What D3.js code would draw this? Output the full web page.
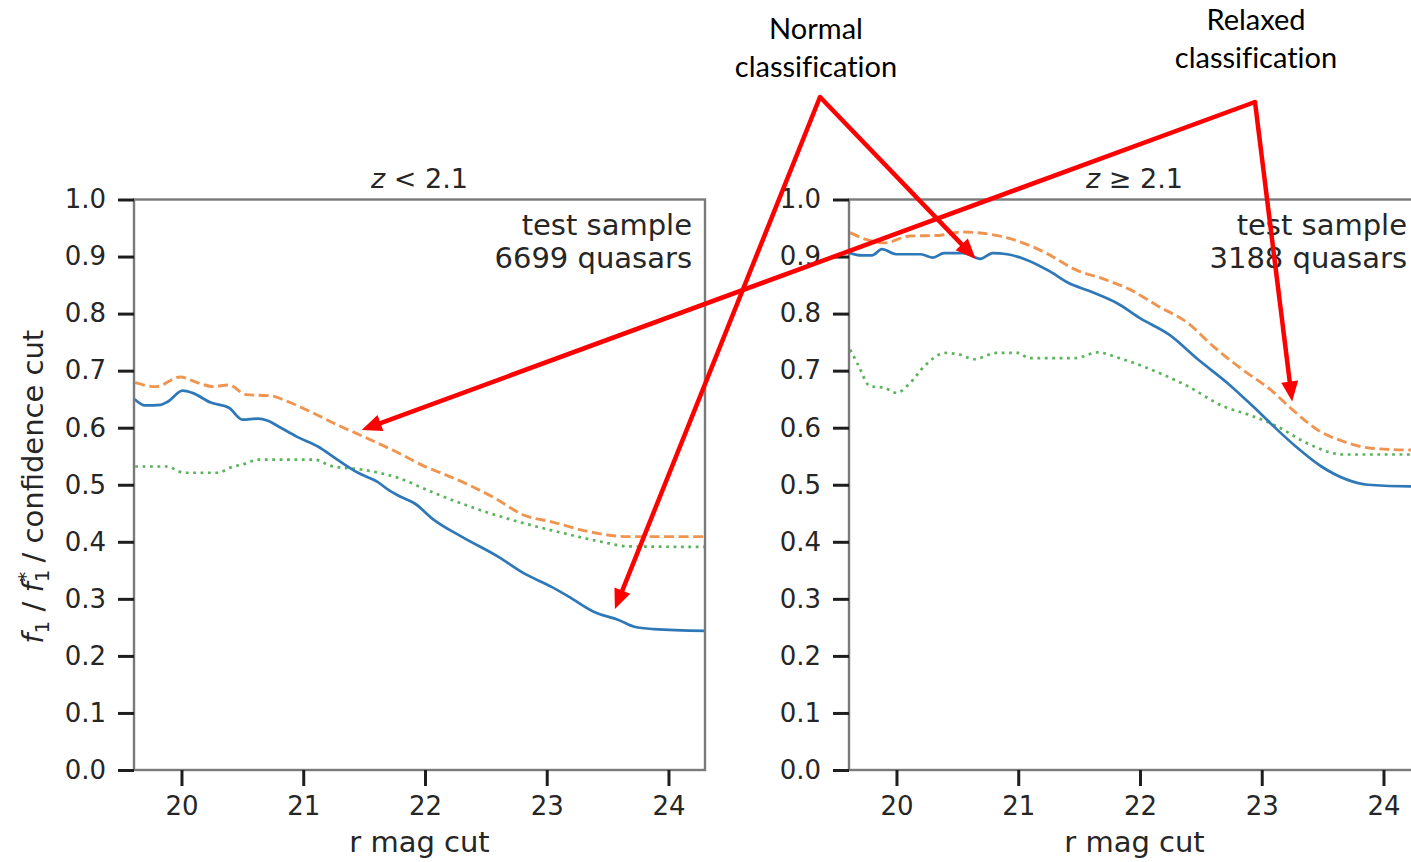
<!DOCTYPE html>
<html>
<head>
<meta charset="utf-8">
<script src="https://cdn.jsdelivr.net/npm/d3@7"></script>
<style>
  html, body { margin: 0; padding: 0; background: #fff; overflow: hidden; }
  svg { display: block; }
</style>
</head>
<body>
<svg id="chart" width="1411" height="862"></svg>
<script>
// ---- data: f1 / f1* / confidence cut versus r magnitude cut ----
// z < 2.1 panel
const lowBlueX   = [19.62,19.70,19.83,19.89,20.01,20.09,20.24,20.39,20.50,20.63,20.71,20.79,20.95,21.12,21.28,21.45,21.61,21.70,21.80,21.91,22.07,22.30,22.60,22.81,23.04,23.18,23.39,23.59,23.72,23.88,24.30];
const lowBlueY   = [0.649,0.639,0.640,0.646,0.665,0.661,0.644,0.635,0.614,0.616,0.612,0.603,0.584,0.567,0.544,0.521,0.505,0.491,0.479,0.468,0.439,0.409,0.374,0.345,0.321,0.304,0.277,0.263,0.251,0.247,0.244];
const lowOrangeX = [19.62,19.79,19.99,20.13,20.26,20.39,20.53,20.73,20.87,21.06,21.28,21.50,21.78,22.02,22.13,22.57,22.81,23.04,23.34,23.67,24.30];
const lowOrangeY = [0.679,0.672,0.689,0.679,0.672,0.675,0.658,0.656,0.646,0.628,0.605,0.584,0.556,0.530,0.521,0.477,0.447,0.435,0.418,0.409,0.409];
const lowGreenX  = [19.62,19.88,20.02,20.30,20.40,20.54,20.62,21.09,21.23,21.50,21.78,22.07,22.49,22.77,23.12,23.45,23.67,24.30];
const lowGreenY  = [0.532,0.532,0.521,0.521,0.530,0.538,0.544,0.544,0.533,0.526,0.512,0.486,0.453,0.435,0.416,0.400,0.392,0.391];

// z >= 2.1 panel
const highBlueX   = [19.62,19.71,19.80,19.88,20.00,20.20,20.30,20.39,20.55,20.69,20.79,20.91,21.06,21.26,21.41,21.59,21.83,22.00,22.24,22.48,22.72,22.93,23.10,23.28,23.49,23.70,23.87,24.22,24.30];
const highBlueY   = [0.906,0.902,0.902,0.913,0.904,0.904,0.898,0.906,0.906,0.896,0.906,0.904,0.895,0.874,0.854,0.839,0.816,0.792,0.763,0.719,0.678,0.637,0.602,0.567,0.532,0.509,0.500,0.497,0.497];
const highOrangeX = [19.62,19.75,19.90,20.11,20.34,20.55,20.82,21.00,21.23,21.47,21.71,21.92,22.15,22.39,22.60,22.84,23.07,23.25,23.46,23.67,23.90,24.22,24.30];
const highOrangeY = [0.942,0.930,0.924,0.936,0.937,0.943,0.937,0.927,0.906,0.877,0.860,0.842,0.813,0.784,0.743,0.702,0.667,0.632,0.596,0.576,0.564,0.561,0.561];
const highGreenX  = [19.62,19.69,19.78,19.90,20.00,20.11,20.23,20.40,20.52,20.64,20.82,21.00,21.09,21.47,21.65,21.83,22.09,22.39,22.69,22.89,23.13,23.37,23.67,24.22,24.30];
const highGreenY  = [0.737,0.708,0.673,0.670,0.661,0.678,0.708,0.731,0.728,0.720,0.731,0.731,0.722,0.722,0.732,0.722,0.702,0.673,0.637,0.623,0.602,0.573,0.553,0.553,0.553];

// axes
const xTicks = [20, 21, 22, 23, 24];
const yTicks = [0.0, 0.1, 0.2, 0.3, 0.4, 0.5, 0.6, 0.7, 0.8, 0.9, 1.0];
const xDomain = [19.61, 24.30];
const yDomain = [0, 1];

// panel texts
const panelTitles = ["z", "z"];
const panelRelations = ["<", "\u2265"];
const panelCut = "2.1";
const sampleCounts = ["6699 quasars", "3188 quasars"];

// callout labels and the points they refer to (panel, r mag, value)
const calloutNormal  = ["Normal", "classification"];
const calloutRelaxed = ["Relaxed", "classification"];
const normalTargets  = [[0, 23.56, 0.282], [1, 20.65, 0.896]];
const relaxedTargets = [[0, 21.48, 0.596], [1, 23.25, 0.646]];

// ---- drawing ----
const svg = d3.select("#chart");
svg.append("rect").attr("width", 1411).attr("height", 862).attr("fill", "#fff");

const FONT = "DejaVu Sans, sans-serif";
const TEXT = "#262626";
const plotTop = 199.5, plotBottom = 770;
const panelLefts = [134, 849];
const panelW = 571;

const styles = {
  blue:   { color: "#2f78b8", dash: null,   width: 2.7 },
  orange: { color: "#f0954f", dash: "10,4.5", width: 2.9 },
  green:  { color: "#5bb35b", dash: "2.8,4.6", width: 2.7 }
};

const panels = [
  { series: [
      { x: lowGreenX,  y: lowGreenY,  s: styles.green },
      { x: lowOrangeX, y: lowOrangeY, s: styles.orange },
      { x: lowBlueX,   y: lowBlueY,   s: styles.blue } ] },
  { series: [
      { x: highGreenX,  y: highGreenY,  s: styles.green },
      { x: highOrangeX, y: highOrangeY, s: styles.orange },
      { x: highBlueX,   y: highBlueY,   s: styles.blue } ] }
];

const y = d3.scaleLinear().domain(yDomain).range([plotBottom, plotTop]);
const xScales = [];

panels.forEach((p, i) => {
  const left = panelLefts[i], right = left + panelW;
  const x = d3.scaleLinear().domain(xDomain).range([left, right]);
  xScales.push(x);
  const g = svg.append("g");

  const clipId = "clip" + i;
  svg.append("clipPath").attr("id", clipId)
    .append("rect").attr("x", left).attr("y", plotTop).attr("width", panelW).attr("height", plotBottom - plotTop);

  // curves
  const line = d3.line().x(d => x(d[0])).y(d => y(d[1])).curve(d3.curveMonotoneX);
  p.series.forEach(sr => {
    const pts = sr.x.map((v, k) => [v, sr.y[k]]);
    g.append("path")
      .attr("clip-path", `url(#${clipId})`)
      .attr("d", line(pts))
      .attr("fill", "none")
      .attr("stroke", sr.s.color)
      .attr("stroke-width", sr.s.width)
      .attr("stroke-dasharray", sr.s.dash)
      .attr("stroke-linejoin", "round")
      .attr("stroke-linecap", sr.s.dash ? "butt" : "round");
  });

  // frame
  g.append("rect")
    .attr("x", left).attr("y", plotTop).attr("width", panelW).attr("height", plotBottom - plotTop)
    .attr("fill", "none").attr("stroke", "#7a7a7a").attr("stroke-width", 2.4);

  // axes
  const ax = g.append("g").attr("transform", `translate(0,${plotBottom})`)
    .call(d3.axisBottom(x).tickValues(xTicks).tickFormat(d3.format("d")).tickSize(16).tickPadding(11).tickSizeOuter(0));
  const ay = g.append("g").attr("transform", `translate(${left},0)`)
    .call(d3.axisLeft(y).tickValues(yTicks).tickFormat(d3.format(".1f")).tickSize(16).tickPadding(12).tickSizeOuter(0));
  [ax, ay].forEach(a => {
    a.select(".domain").remove();
    a.selectAll(".tick line").attr("stroke", "#1e1e1e").attr("stroke-width", 3);
    a.selectAll(".tick text").attr("fill", TEXT).style("font-family", FONT).style("font-size", "26px");
  });

  // title
  const cx = left + panelW / 2;
  const t = g.append("text").attr("x", cx).attr("y", 188).attr("text-anchor", "middle")
    .attr("fill", TEXT).style("font-family", FONT).style("font-size", "27px");
  t.append("tspan").style("font-style", "italic").text(panelTitles[i]);
  t.append("tspan").text(" " + panelRelations[i] + " " + panelCut);

  // sample note
  const note = g.append("text").attr("text-anchor", "end").attr("fill", TEXT)
    .style("font-family", FONT).style("font-size", "29px");
  note.append("tspan").attr("x", right - 13).attr("y", 235).text("test sample");
  note.append("tspan").attr("x", right - 13).attr("y", 268).text(sampleCounts[i]);

  // x label
  g.append("text").attr("x", cx).attr("y", 852).attr("text-anchor", "middle")
    .attr("fill", TEXT).style("font-family", FONT).style("font-size", "29px").text("r mag cut");
});

// y label: f1 / f1* / confidence cut
const yl = svg.append("text")
  .attr("transform", `translate(43,${(plotTop + plotBottom) / 2 + 2}) rotate(-90)`)
  .attr("text-anchor", "middle").attr("fill", TEXT)
  .style("font-family", FONT).style("font-size", "29px");
yl.append("tspan").style("font-style", "italic").text("f");
yl.append("tspan").attr("dy", 6).style("font-size", "20px").text("1");
yl.append("tspan").attr("dy", -6).text(" / ");
yl.append("tspan").style("font-style", "italic").text("f");
yl.append("tspan").attr("dy", 6).style("font-size", "20px").text("1");
yl.append("tspan").attr("dx", -12).attr("dy", -17).style("font-size", "20px").text("*");
yl.append("tspan").attr("dy", 11).text(" / confidence cut");

// ---- callouts ----
const RED = "#ff0000";
function arrow(x0, y0, x1, y1) {
  const L = 20, W = 8.5;
  const dx = x1 - x0, dy = y1 - y0, d = Math.hypot(dx, dy);
  const ux = dx / d, uy = dy / d;
  const bx = x1 - ux * L, by = y1 - uy * L;
  svg.append("line").attr("x1", x0).attr("y1", y0).attr("x2", bx + ux * 2).attr("y2", by + uy * 2)
    .attr("stroke", RED).attr("stroke-width", 4.5).attr("stroke-linecap", "butt");
  svg.append("polygon")
    .attr("points", [[x1, y1], [bx - uy * W, by + ux * W], [bx + uy * W, by - ux * W]].map(p => p.join(",")).join(" "))
    .attr("fill", RED);
}
function callout(lines, cx, baseY, apex, targets) {
  const t = svg.append("text").attr("text-anchor", "middle").attr("fill", "#000")
    .style("font-family", "Lato, 'Open Sans', sans-serif").style("font-size", "29px")
    .style("font-variant-ligatures", "none");
  lines.forEach((s, k) => t.append("tspan").attr("x", cx).attr("y", baseY + k * 38).text(s));
  targets.forEach(([pi, mx, v]) => arrow(apex[0], apex[1], xScales[pi](mx), y(v)));
  svg.append("circle").attr("cx", apex[0]).attr("cy", apex[1]).attr("r", 2.2).attr("fill", RED);
}
callout(calloutNormal, 816, 39, [820, 97], normalTargets);
callout(calloutRelaxed, 1256, 30, [1255, 102], relaxedTargets);
</script>
</body>
</html>
